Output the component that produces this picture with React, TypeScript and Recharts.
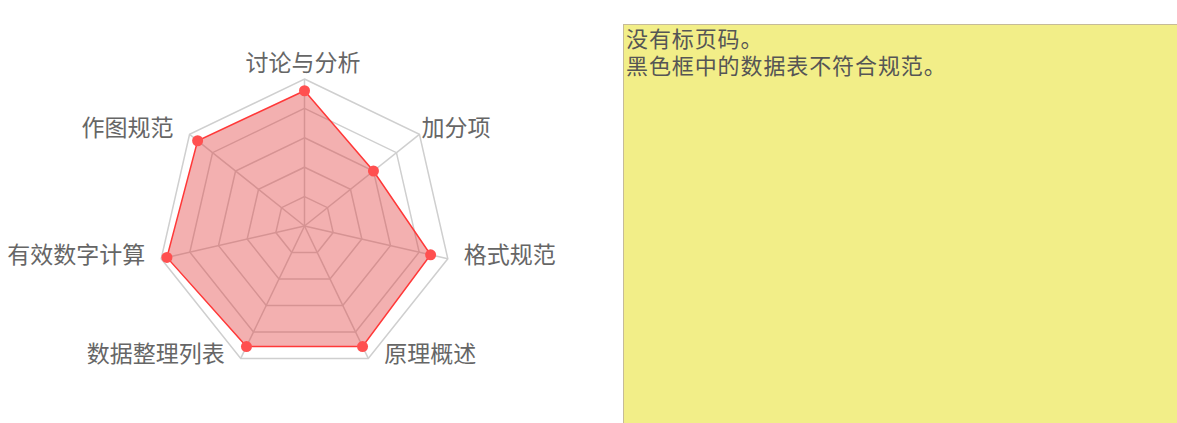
import React from 'react';
import { RadarChart, Radar, PolarGrid, PolarAngleAxis, PolarRadiusAxis } from 'recharts';

const categories = ['讨论与分析', '加分项', '格式规范', '原理概述', '数据整理列表', '有效数字计算', '作图规范'];
const scores = [92, 60, 88, 91, 91, 96, 93];
const maxScore = 100;
const ringLevels = [20, 40, 60, 80, 100];
const comments = ['没有标页码。', '黑色框中的数据表不符合规范。'];

const data = categories.map((name, i) => ({ name, score: scores[i] }));

const CX = 304.5;
const CY = 226;
const R = 147;
const LABEL_NUDGE: Record<string, number> = { '加分项': -14 };
const FONT = '"Noto Sans CJK SC", "Noto Sans", sans-serif';

const AngleTick = (props: any) => {
  const { payload } = props;
  const angle = (payload.coordinate * Math.PI) / 180;
  const cos = Math.cos(angle);
  const sin = Math.sin(angle);
  const vx = CX + R * cos;
  const vy = CY - R * sin;
  let anchor: 'middle' | 'start' | 'end';
  let x: number;
  let y: number;
  if (Math.abs(cos) < 0.01) {
    anchor = 'middle';
    x = vx - 1.5;
    y = vy - 18;
  } else {
    anchor = cos > 0 ? 'start' : 'end';
    x = vx + (cos > 0 ? 16 : -16);
    y = vy - (sin > 0.3 ? 8 : 6);
  }
  x += LABEL_NUDGE[payload.value] || 0;
  return (
    <text x={x} y={y} textAnchor={anchor} dominantBaseline="central" fill="#666" fontSize={23} fontFamily={FONT}>
      {payload.value}
    </text>
  );
};

export default function App() {
  return (
    <div style={{ position: 'absolute', left: 0, top: 0, width: 1177, height: 423, background: '#fff', overflow: 'hidden' }}>
      <div style={{ position: 'absolute', left: 0, top: 0 }}>
        <RadarChart width={615} height={423} data={data} cx={CX} cy={CY} outerRadius={R} margin={{ top: 0, right: 0, bottom: 0, left: 0 }}>
          <PolarGrid
            gridType="polygon"
            stroke="#cfcfcf"
            strokeWidth={1.5}
            polarRadius={ringLevels.map((v) => (v / maxScore) * R)}
          />
          <PolarAngleAxis dataKey="name" tick={<AngleTick />} tickLine={false} axisLine={false} />
          <PolarRadiusAxis domain={[0, maxScore]} axisLine={false} tick={false} tickCount={6} />
          <Radar
            dataKey="score"
            stroke="#ff3838"
            strokeWidth={1.5}
            fill="#e03a3a"
            fillOpacity={0.4}
            dot={{ r: 5.5, fill: '#ff5050', stroke: 'none', fillOpacity: 1 }}
            isAnimationActive={false}
          />
        </RadarChart>
      </div>
      <div
        style={{
          position: 'absolute',
          left: 623,
          top: 24,
          width: 554,
          height: 399,
          boxSizing: 'border-box',
          background: '#f2ee88',
          borderLeft: '1px solid #c6bb98',
          borderTop: '1px solid #c6bb98',
          padding: '0 0 0 2px',
          fontFamily: FONT,
          fontSize: 22,
          lineHeight: '27px',
          color: '#555',
        }}
      >
        <div style={{ marginTop: -1, letterSpacing: 0.9, whiteSpace: 'pre-line' }}>{comments.join('\n')}</div>
      </div>
    </div>
  );
}
